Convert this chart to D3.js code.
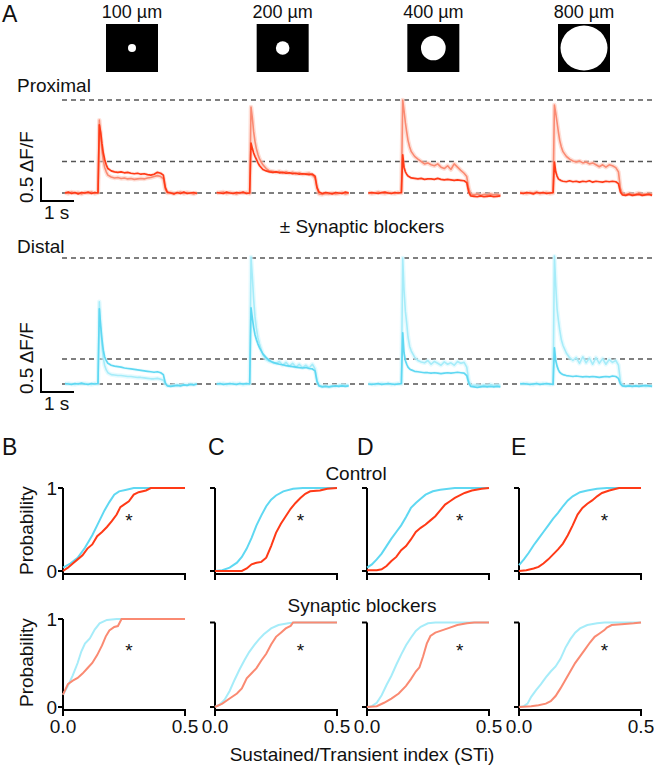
<!DOCTYPE html>
<html><head><meta charset="utf-8">
<script src="https://cdn.jsdelivr.net/npm/d3@7"></script>
<style>body{margin:0;background:#fff}svg text{font-family:"Liberation Sans",Arial,sans-serif;fill:#111}</style>
</head><body><svg id="c" width="654" height="767"></svg>
<script>
// ---------- DATA ----------
const spotSizes = [100, 200, 400, 800];            // µm
const spotLabels = ["100 µm", "200 µm", "400 µm", "800 µm"];
const T = [0,0.1,0.2,0.3,0.4,0.5,0.6,0.7,0.8,0.9,1.0,1.04,1.08,1.12,1.16,1.2,1.25,1.3,1.4,1.5,1.6,1.7,1.8,1.9,2.0,2.1,2.2,2.3,2.4,2.5,2.6,2.7,2.8,2.9,2.98,3.04,3.1,3.2,3.3,3.4,3.5,3.6,3.7,3.8,3.9,4.0];

// ΔF/F, proximal, control (dark red)
const proximalControl = [
 [0.0,0.02,-0.01,0.01,-0.02,0.01,0.0,0.02,-0.01,0.01,0.0, 1.45,1.3,1.05,0.85,0.72,0.6,0.52, 0.47,0.45,0.44,0.45,0.43,0.44,0.42,0.41,0.42,0.4,0.41,0.39,0.38,0.4,0.44,0.42, 0.38,0.12,0.02, 0.0,-0.02,0.01,-0.01,0.02,-0.01,0.0,0.01,-0.01],
 [0.01,0.0,-0.01,0.02,0.0,-0.01,0.01,0.0,0.02,-0.01,0.0, 1.06,0.95,0.85,0.78,0.72,0.64,0.58, 0.5,0.47,0.45,0.44,0.45,0.43,0.44,0.42,0.43,0.41,0.42,0.4,0.41,0.4,0.39,0.4, 0.36,0.12,0.02, -0.01,0.01,0.0,-0.02,0.01,0.0,-0.01,0.02,0.0],
 [0.0,0.01,0.0,-0.01,0.01,0.02,0.0,-0.01,0.01,0.0,0.01, 0.81,0.55,0.45,0.4,0.36,0.34,0.32, 0.31,0.3,0.31,0.29,0.3,0.3,0.29,0.31,0.29,0.28,0.29,0.28,0.27,0.28,0.27,0.26, 0.22,0.02,-0.06, -0.07,-0.08,-0.06,-0.08,-0.07,-0.06,-0.08,-0.07,-0.06],
 [0.0,-0.01,0.01,0.0,-0.02,0.01,0.0,0.01,-0.01,0.0,0.01, 0.66,0.45,0.36,0.3,0.28,0.26,0.25, 0.24,0.26,0.24,0.25,0.23,0.25,0.24,0.26,0.23,0.25,0.24,0.23,0.25,0.24,0.25,0.24, 0.2,0.02,-0.04, -0.05,-0.03,-0.05,-0.04,-0.03,-0.05,-0.04,-0.03,-0.05]
];
// ΔF/F, proximal, synaptic blockers (light red)
const proximalBlockers = [
 [0.01,-0.01,0.02,0.0,0.01,-0.02,0.01,0.0,0.02,-0.01,0.01, 1.55,1.2,0.9,0.7,0.55,0.45,0.38, 0.34,0.32,0.33,0.31,0.32,0.3,0.31,0.29,0.3,0.31,0.3,0.32,0.33,0.35,0.37,0.35, 0.3,0.08,0.0, 0.01,-0.01,0.0,0.02,-0.01,0.01,0.0,-0.02,0.01],
 [0.0,0.01,0.02,-0.01,0.01,0.0,-0.02,0.01,0.0,0.01,-0.01, 1.83,1.6,1.3,1.1,0.95,0.82,0.72, 0.6,0.52,0.47,0.46,0.44,0.46,0.43,0.45,0.42,0.44,0.41,0.43,0.4,0.41,0.42,0.38, 0.32,0.1,-0.02, -0.03,-0.01,-0.02,0.0,-0.02,-0.01,0.01,-0.02,0.0],
 [0.01,-0.01,0.0,0.02,0.0,-0.01,0.01,0.0,-0.01,0.01,0.0, 1.98,1.75,1.5,1.3,1.12,0.98,0.88, 0.78,0.72,0.67,0.62,0.64,0.6,0.58,0.62,0.55,0.52,0.58,0.5,0.62,0.55,0.48,0.42, 0.35,0.1,-0.02, -0.04,-0.02,-0.05,-0.03,-0.04,-0.02,-0.04,-0.03,-0.05],
 [0.01,0.0,-0.01,0.01,0.0,0.02,-0.01,0.0,0.01,-0.01,0.0, 1.87,1.7,1.5,1.3,1.12,0.98,0.88, 0.78,0.72,0.68,0.66,0.68,0.64,0.66,0.62,0.64,0.6,0.56,0.6,0.55,0.6,0.58,0.54, 0.45,0.1,-0.01, -0.03,-0.01,-0.03,-0.02,0.0,-0.03,-0.02,-0.01,-0.03]
];
// ΔF/F, distal, control (cyan)
const distalControl = [
 [0.01,0.0,-0.01,0.01,0.0,0.02,0.0,-0.01,0.01,0.0,0.01, 1.6,1.25,0.95,0.72,0.58,0.5,0.44, 0.4,0.38,0.37,0.36,0.34,0.33,0.32,0.31,0.3,0.29,0.28,0.27,0.26,0.25,0.26,0.24, 0.2,0.02,-0.04, -0.05,-0.04,-0.03,-0.04,-0.02,-0.03,-0.01,-0.02,0.0],
 [0.0,0.01,-0.01,0.0,0.01,0.0,-0.01,0.01,0.0,0.01,0.0, 1.62,1.4,1.2,1.05,0.95,0.85,0.77, 0.64,0.56,0.5,0.46,0.44,0.42,0.41,0.39,0.38,0.37,0.36,0.35,0.34,0.35,0.33,0.32, 0.28,0.05,-0.04, -0.06,-0.05,-0.06,-0.05,-0.04,-0.05,-0.04,-0.05,-0.04],
 [0.0,-0.01,0.0,0.01,-0.01,0.0,0.01,0.0,-0.01,0.0,0.01, 1.09,0.66,0.5,0.42,0.36,0.32,0.3, 0.27,0.26,0.25,0.24,0.24,0.23,0.24,0.23,0.22,0.23,0.24,0.23,0.24,0.25,0.24,0.23, 0.18,0.02,-0.05, -0.06,-0.07,-0.06,-0.05,-0.06,-0.05,-0.06,-0.05,-0.06],
 [0.0,0.01,0.0,-0.01,0.0,0.01,-0.01,0.0,0.01,0.0,-0.01, 0.77,0.5,0.38,0.3,0.25,0.22,0.2, 0.18,0.17,0.16,0.17,0.16,0.15,0.16,0.15,0.16,0.15,0.14,0.15,0.16,0.15,0.17,0.16, 0.12,0.0,-0.04, -0.05,-0.04,-0.05,-0.04,-0.05,-0.04,-0.03,-0.04,-0.05]
];
// ΔF/F, distal, synaptic blockers (light cyan)
const distalBlockers = [
 [0.0,0.01,0.0,-0.01,0.01,0.0,0.01,0.0,-0.01,0.01,0.0, 1.75,1.2,0.8,0.55,0.4,0.3,0.24, 0.2,0.19,0.18,0.18,0.17,0.16,0.16,0.15,0.14,0.14,0.13,0.12,0.11,0.11,0.12,0.1, 0.08,0.0,-0.03, -0.04,-0.03,-0.02,-0.03,-0.01,-0.02,0.0,-0.01,0.0],
 [0.01,0.0,0.01,-0.01,0.0,0.01,0.0,0.01,-0.01,0.0,0.01, 2.7,2.28,1.8,1.43,1.2,0.98,0.85, 0.62,0.52,0.48,0.46,0.44,0.48,0.4,0.46,0.38,0.44,0.36,0.42,0.35,0.4,0.34,0.42, 0.32,0.08,-0.03, -0.05,-0.04,-0.06,-0.04,-0.05,-0.03,-0.02,-0.03,-0.02],
 [0.01,0.0,-0.01,0.0,0.01,0.0,0.01,-0.01,0.0,0.01,0.0, 2.68,2.0,1.55,1.3,1.0,0.8,0.7, 0.57,0.5,0.47,0.45,0.5,0.42,0.48,0.44,0.4,0.47,0.42,0.45,0.4,0.48,0.44,0.46, 0.36,0.08,-0.02, -0.03,-0.02,-0.04,-0.02,-0.03,-0.01,-0.03,-0.02,-0.03],
 [0.01,0.0,0.01,0.0,-0.01,0.01,0.0,0.01,0.0,-0.01,0.0, 2.72,2.1,1.6,1.36,1.15,0.94,0.82, 0.66,0.56,0.5,0.56,0.44,0.58,0.45,0.55,0.42,0.56,0.44,0.54,0.42,0.52,0.46,0.5, 0.4,0.06,-0.03, -0.04,-0.03,-0.05,-0.03,-0.04,-0.03,-0.05,-0.04,-0.03]
];
const proximalRefLevels = [0, 0.67, 1.98];
const distalRefLevels = [0, 0.53, 2.68];

// Cumulative distributions [STi, probability], panels B..E
const panelLetters = ["B", "C", "D", "E"];
const cdfControlDistal = [
 [[0,0.04],[0.03,0.09],[0.06,0.16],[0.09,0.28],[0.12,0.43],[0.14,0.55],[0.17,0.73],[0.19,0.83],[0.21,0.92],[0.23,0.96],[0.26,0.98],[0.29,1],[0.5,1]],
 [[0,0],[0.03,0.01],[0.06,0.04],[0.09,0.1],[0.11,0.17],[0.13,0.27],[0.15,0.4],[0.17,0.55],[0.19,0.67],[0.21,0.78],[0.23,0.86],[0.25,0.91],[0.28,0.96],[0.32,0.99],[0.36,1],[0.5,1]],
 [[0,0.04],[0.02,0.08],[0.04,0.14],[0.06,0.21],[0.08,0.3],[0.1,0.39],[0.12,0.47],[0.14,0.55],[0.16,0.65],[0.18,0.76],[0.2,0.82],[0.22,0.87],[0.24,0.92],[0.27,0.96],[0.3,0.98],[0.36,1],[0.5,1]],
 [[0,0.07],[0.02,0.14],[0.04,0.22],[0.06,0.31],[0.08,0.39],[0.1,0.47],[0.12,0.55],[0.14,0.63],[0.16,0.7],[0.18,0.78],[0.2,0.85],[0.22,0.9],[0.25,0.95],[0.28,0.97],[0.32,0.99],[0.36,1],[0.5,1]]
];
const cdfControlProximal = [
 [[0,0],[0.02,0.04],[0.04,0.09],[0.06,0.14],[0.08,0.19],[0.1,0.27],[0.12,0.32],[0.14,0.42],[0.16,0.47],[0.18,0.53],[0.2,0.6],[0.22,0.68],[0.235,0.77],[0.25,0.8],[0.27,0.84],[0.29,0.92],[0.31,0.95],[0.34,0.97],[0.36,1],[0.5,1]],
 [[0,0],[0.11,0],[0.13,0.03],[0.15,0.08],[0.17,0.1],[0.19,0.11],[0.21,0.16],[0.23,0.3],[0.25,0.46],[0.27,0.57],[0.29,0.66],[0.31,0.75],[0.33,0.82],[0.35,0.88],[0.37,0.93],[0.39,0.96],[0.43,0.97],[0.46,0.99],[0.5,1]],
 [[0,0.01],[0.04,0.01],[0.06,0.02],[0.08,0.06],[0.1,0.12],[0.12,0.17],[0.14,0.25],[0.16,0.3],[0.18,0.38],[0.2,0.47],[0.22,0.52],[0.24,0.56],[0.26,0.61],[0.28,0.66],[0.3,0.73],[0.32,0.8],[0.34,0.84],[0.36,0.88],[0.38,0.91],[0.4,0.94],[0.43,0.97],[0.47,0.99],[0.5,1]],
 [[0,0],[0.03,0.01],[0.06,0.03],[0.08,0.05],[0.1,0.09],[0.12,0.14],[0.14,0.2],[0.16,0.26],[0.18,0.33],[0.2,0.43],[0.22,0.55],[0.24,0.68],[0.26,0.76],[0.28,0.81],[0.3,0.85],[0.32,0.9],[0.34,0.94],[0.37,0.97],[0.41,1],[0.5,1]]
];
const cdfBlockerDistal = [
 [[0,0.14],[0.02,0.24],[0.04,0.36],[0.06,0.5],[0.075,0.63],[0.09,0.72],[0.11,0.78],[0.13,0.88],[0.15,0.95],[0.18,0.99],[0.22,1],[0.5,1]],
 [[0,0],[0.02,0.03],[0.04,0.09],[0.06,0.19],[0.08,0.32],[0.1,0.44],[0.12,0.55],[0.14,0.65],[0.16,0.73],[0.18,0.8],[0.2,0.86],[0.23,0.93],[0.26,0.97],[0.3,0.99],[0.33,1],[0.5,1]],
 [[0,0],[0.02,0.01],[0.04,0.05],[0.06,0.14],[0.08,0.26],[0.1,0.37],[0.12,0.5],[0.14,0.62],[0.16,0.73],[0.18,0.82],[0.2,0.9],[0.22,0.95],[0.25,0.99],[0.28,1],[0.5,1]],
 [[0,0],[0.02,0.01],[0.035,0.04],[0.05,0.12],[0.07,0.2],[0.09,0.27],[0.11,0.35],[0.13,0.42],[0.15,0.48],[0.17,0.57],[0.19,0.7],[0.21,0.8],[0.23,0.88],[0.25,0.93],[0.28,0.97],[0.32,0.99],[0.35,1],[0.5,1]]
];
const cdfBlockerProximal = [
 [[0,0.14],[0.02,0.26],[0.04,0.3],[0.06,0.33],[0.08,0.38],[0.1,0.44],[0.12,0.5],[0.14,0.59],[0.16,0.7],[0.175,0.8],[0.19,0.87],[0.21,0.91],[0.225,0.92],[0.24,1],[0.5,1]],
 [[0,0],[0.03,0.04],[0.06,0.1],[0.09,0.16],[0.11,0.22],[0.13,0.34],[0.15,0.4],[0.17,0.46],[0.19,0.55],[0.21,0.63],[0.23,0.74],[0.25,0.83],[0.27,0.88],[0.29,0.93],[0.31,0.96],[0.32,1],[0.5,1]],
 [[0,0],[0.04,0.01],[0.07,0.05],[0.1,0.1],[0.13,0.16],[0.16,0.25],[0.18,0.33],[0.2,0.42],[0.215,0.47],[0.23,0.6],[0.245,0.75],[0.26,0.84],[0.28,0.88],[0.31,0.91],[0.34,0.94],[0.37,0.97],[0.41,0.99],[0.44,1],[0.5,1]],
 [[0,0],[0.05,0.01],[0.08,0.02],[0.11,0.04],[0.13,0.07],[0.15,0.13],[0.17,0.22],[0.19,0.32],[0.21,0.42],[0.23,0.52],[0.25,0.6],[0.27,0.68],[0.29,0.76],[0.31,0.83],[0.33,0.87],[0.35,0.91],[0.36,0.94],[0.38,0.97],[0.42,0.98],[0.47,0.99],[0.5,1]]
];
const starSTi = [0.27, 0.35, 0.38, 0.35];
const xTickVals = [0, 0.5];
const yTickVals = [0, 1];

// ---------- STYLE ----------
const C = {
  redCtrl: "#ff3a17", redBlk: "#fa8a72", redBand: "#fdc9bd",
  cyanCtrl: "#5fd8f2", cyanBlk: "#a6ecf9", cyanBand: "#d6f6fd",
  dash: "#555"
};
const svg = d3.select("#c");
const FONT = 19;

function text(x, y, s, opts = {}) {
  const t = svg.append("text").attr("x", x).attr("y", y).text(s)
    .attr("font-size", opts.size || FONT)
    .attr("text-anchor", opts.anchor || "start");
  if (opts.rotate) t.attr("transform", `rotate(-90,${x},${y})`);
  if (opts.baseline) t.attr("dominant-baseline", opts.baseline);
  return t;
}

// ---------- PANEL A ----------
text(2, 22, "A", {size: 23});
const stimCenters = d3.scaleLinear().domain([0, 3]).range([132, 584]);
const rScale = d3.scaleLinear().domain([100, 800]).range([4, 23.5]);
spotSizes.forEach((s, i) => {
  const cx = stimCenters(i);
  text(cx, 18, spotLabels[i], {anchor: "middle", size: 18});
  svg.append("rect").attr("x", cx - 26).attr("y", 24).attr("width", 52).attr("height", 48).attr("fill", "#000");
  svg.append("ellipse").attr("cx", cx).attr("cy", 48).attr("rx", rScale(s)).attr("ry", Math.min(rScale(s), 22.5)).attr("fill", "#fff");
});

function traceRow(baseY, refLevels, ctrl, blk, colCtrl, colBlk, colBand, label, labelY) {
  const y = d3.scaleLinear().domain([0, 1]).range([baseY, baseY - 47]);
  // reference dashed lines
  refLevels.forEach(v => {
    svg.append("line").attr("x1", 62).attr("x2", 652).attr("y1", y(v)).attr("y2", y(v))
      .attr("stroke", C.dash).attr("stroke-width", 1.5).attr("stroke-dasharray", "5,4");
  });
  text(17, labelY, label);
  for (let i = 0; i < 4; i++) {
    const x0 = 65 + i * 151.7;
    const x = d3.scaleLinear().domain([0, 4]).range([x0, x0 + 132]);
    const line = d3.line().x((d, k) => x(T[k])).y(d => y(d));
    svg.append("path").attr("d", line(blk[i])).attr("fill", "none").attr("stroke", colBand)
      .attr("stroke-width", 4.5).attr("stroke-opacity", 0.6).attr("stroke-linejoin", "round");
    svg.append("path").attr("d", line(ctrl[i])).attr("fill", "none").attr("stroke", colBand)
      .attr("stroke-width", 3.5).attr("stroke-opacity", 0.4).attr("stroke-linejoin", "round");
    svg.append("path").attr("d", line(blk[i])).attr("fill", "none").attr("stroke", colBlk)
      .attr("stroke-width", 1.6).attr("stroke-linejoin", "round");
    svg.append("path").attr("d", line(ctrl[i])).attr("fill", "none").attr("stroke", colCtrl)
      .attr("stroke-width", 1.7).attr("stroke-linejoin", "round");
  }
  // scale bar: 0.5 ΔF/F and 1 s
  const sx = d3.scaleLinear().domain([0, 1]).range([41, 74]);
  const barY = baseY + 8;
  const barScale = d3.scaleLinear().domain([0, 1]).range([barY, barY - 47]);
  svg.append("path").attr("d", `M${sx(0)},${barScale(0.5)}V${barY}H${sx(1)}`)
    .attr("fill", "none").attr("stroke", "#000").attr("stroke-width", 2);
  text(33, barY + 2, "0.5 ΔF/F", {rotate: true});
  text(44, barY + 18, "1 s");
}
traceRow(193, proximalRefLevels, proximalControl, proximalBlockers, C.redCtrl, C.redBlk, C.redBand, "Proximal", 92);
text(362, 233, "± Synaptic blockers", {anchor: "middle"});
traceRow(384, distalRefLevels, distalControl, distalBlockers, C.cyanCtrl, C.cyanBlk, C.cyanBand, "Distal", 253);

// ---------- PANELS B-E ----------
panelLetters.forEach((L, i) => text([2, 208, 357, 511][i], 455, L, {size: 23}));
text(356, 480, "Control", {anchor: "middle"});
text(362, 612, "Synaptic blockers", {anchor: "middle"});

function cdfPanel(i, y0, y1, distal, proximal, colD, colP, showY, starY) {
  const xa = 63 + i * 152;
  const x = d3.scaleLinear().domain([0, 0.5]).range([xa, xa + 122]);
  const y = d3.scaleLinear().domain([0, 1]).range([y0, y1]);
  const g = svg.append("g");
  const axY = y0 + 3;
  g.append("line").attr("x1", xa).attr("x2", xa).attr("y1", y(1)).attr("y2", axY).attr("stroke", "#000").attr("stroke-width", 2);
  g.append("line").attr("x1", xa - 1).attr("x2", x(0.5) + 1).attr("y1", axY).attr("y2", axY).attr("stroke", "#000").attr("stroke-width", 2);
  yTickVals.forEach(v => g.append("line").attr("x1", xa - 5).attr("x2", xa).attr("y1", y(v)).attr("y2", y(v)).attr("stroke", "#000").attr("stroke-width", 2));
  xTickVals.forEach(v => g.append("line").attr("x1", x(v)).attr("x2", x(v)).attr("y1", axY).attr("y2", axY + 6).attr("stroke", "#000").attr("stroke-width", 2));
  if (showY) yTickVals.forEach(v => text(xa - 6, y(v) + 7, String(v), {anchor: "end"}));
  const line = d3.line().x(d => x(d[0])).y(d => y(d[1]));
  g.append("path").attr("d", line(distal)).attr("fill", "none").attr("stroke", colD).attr("stroke-width", 2);
  g.append("path").attr("d", line(proximal)).attr("fill", "none").attr("stroke", colP).attr("stroke-width", 2);
  text(x(starSTi[i]), starY, "*", {anchor: "middle"});
  return x;
}
for (let i = 0; i < 4; i++) {
  cdfPanel(i, 571, 488, cdfControlDistal[i], cdfControlProximal[i], C.cyanCtrl, C.redCtrl, i === 0, 527);
  const x = cdfPanel(i, 707, i === 0 ? 619 : 622.5, cdfBlockerDistal[i], cdfBlockerProximal[i], C.cyanBlk, C.redBlk, i === 0, 657);
  xTickVals.forEach(v => text(x(v), 733, d3.format(".1f")(v), {anchor: "middle"}));
}
text(33, 575, "Probability", {rotate: true});
text(33, 707, "Probability", {rotate: true});
text(362, 761, "Sustained/Transient index (STi)", {anchor: "middle"});
</script></body></html>
